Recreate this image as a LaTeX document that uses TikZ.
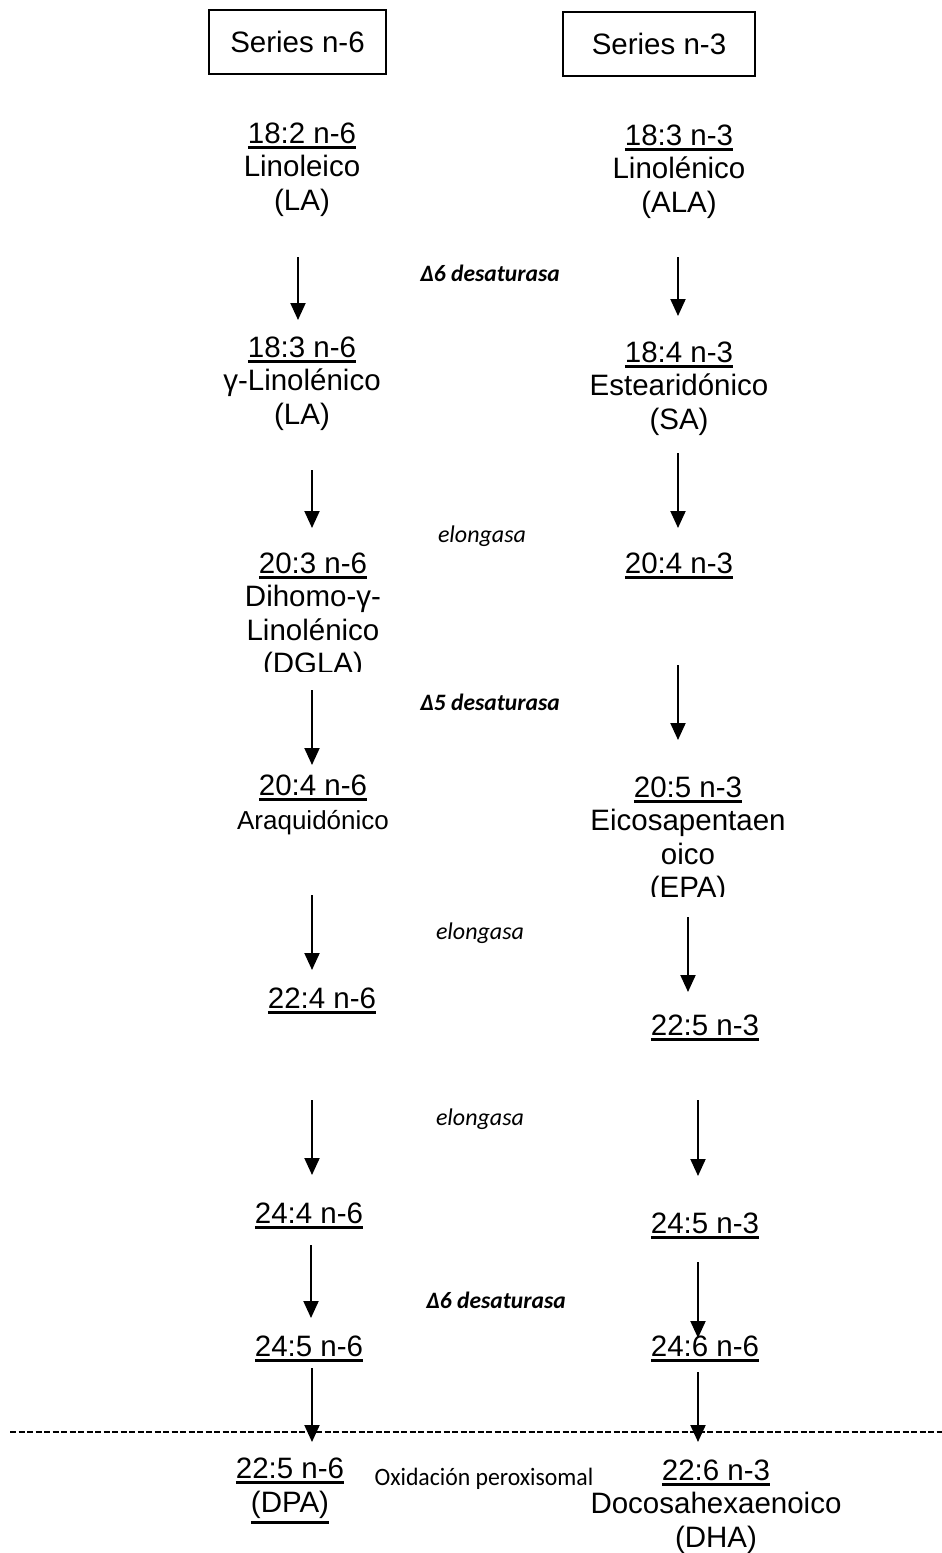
\documentclass[tikz,border=0pt]{standalone}
\usepackage{fontspec}
\setmainfont{Liberation Sans}
\newfontfamily\lblfont{Carlito}
\usetikzlibrary{arrows.meta}

% first line of an acid entry: text with a heavy rule beneath it
\newcommand{\ulin}[1]{\leavevmode\vtop{\hbox{#1}\kern2.6pt\hrule height 2.8pt}}

\begin{document}
\begin{tikzpicture}[x=1pt,y=-1pt,
  acid/.style={font=\fontsize{29.5}{33.5}\selectfont, align=center, inner sep=0pt, anchor=base},
  hdr/.style={draw, line width=2pt, font=\fontsize{29.5}{33.5}\selectfont, minimum height=64pt, inner sep=0pt},
  enz/.style={font=\lblfont\fontsize{24}{28}\selectfont\itshape, inner sep=0pt},
  enzb/.style={font=\lblfont\fontsize{23.5}{28}\selectfont\bfseries\itshape, inner sep=0pt},
  arr/.style={line width=2pt, -{Triangle[width=15pt,length=17pt]}}]
\useasboundingbox (0,0) rectangle (942,1553);
\fill[white] (0,0) rectangle (942,1553);

% series headers
\node[hdr, minimum width=177pt] (h6) at (297.5,42) {Series n-6};
\node[hdr, minimum width=192pt] (h3) at (659,44) {Series n-3};

% n-6 pathway (multi-line entries are placed by the baseline of their last line)
\node[acid] (n6a) at (302,210) {\ulin{18:2 n-6}\\Linoleico\\(LA)};
\node[acid] (n6b) at (302,424) {\ulin{18:3 n-6}\\γ-Linolénico\\(LA)};
\begin{scope}
  \clip (0,0) rectangle (942,671);
  \node[acid] (n6c) at (313,673.5) {\ulin{20:3 n-6}\\Dihomo-γ-\\Linolénico\\(DGLA)};
\end{scope}
\node[acid] (n6d) at (313,829) {\ulin{20:4 n-6}\\{\fontsize{26}{32}\selectfont Araquidónico}};
\node[acid] (n6e) at (322,1008) {\ulin{22:4 n-6}};
\node[acid] (n6f) at (309,1223) {\ulin{24:4 n-6}};
\node[acid] (n6g) at (309,1356) {\ulin{24:5 n-6}};
\node[acid] (n6h) at (290,1512) {\ulin{22:5 n-6}\\\ulin{(DPA)}};

% n-3 pathway
\node[acid] (n3a) at (679,212) {\ulin{18:3 n-3}\\Linolénico\\(ALA)};
\node[acid] (n3b) at (679,429) {\ulin{18:4 n-3}\\Estearidónico\\(SA)};
\node[acid] (n3c) at (679,573) {\ulin{20:4 n-3}};
\begin{scope}
  \clip (0,0) rectangle (942,896);
  \node[acid] (n3d) at (688,897.5) {\ulin{20:5 n-3}\\Eicosapentaen\\oico\\(EPA)};
\end{scope}
\node[acid] (n3e) at (705,1035) {\ulin{22:5 n-3}};
\node[acid] (n3f) at (705,1233) {\ulin{24:5 n-3}};
\node[acid] (n3g) at (705,1356) {\ulin{24:6 n-6}};
\node[acid] (n3h) at (716,1547) {\ulin{22:6 n-3}\\Docosahexaenoico\\(DHA)};

% enzymes
\node[enzb] (e1) at (490,273) {Δ6 desaturasa};
\node[enz]  (e2) at (482,536) {elongasa};
\node[enzb] (e3) at (490,702) {Δ5 desaturasa};
\node[enz]  (e4) at (480,933) {elongasa};
\node[enz]  (e5) at (480,1119) {elongasa};
\node[enzb] (e6) at (496,1300) {Δ6 desaturasa};
\node[font=\lblfont\fontsize{25}{29}\selectfont, inner sep=0pt, xscale=0.95] (e7) at (484,1479) {Oxidación peroxisomal};

% arrow end points
\coordinate (l1t) at (298,257);  \coordinate (l1b) at (298,320);
\coordinate (l2t) at (312,470);  \coordinate (l2b) at (312,528);
\coordinate (l3t) at (312,690);  \coordinate (l3b) at (312,765);
\coordinate (l4t) at (312,895);  \coordinate (l4b) at (312,970);
\coordinate (l5t) at (312,1100); \coordinate (l5b) at (312,1175);
\coordinate (l6t) at (311,1245); \coordinate (l6b) at (311,1318);
\coordinate (l7t) at (312,1368); \coordinate (l7b) at (312,1442);
\coordinate (r1t) at (678,257);  \coordinate (r1b) at (678,316);
\coordinate (r2t) at (678,453);  \coordinate (r2b) at (678,528);
\coordinate (r3t) at (678,665);  \coordinate (r3b) at (678,740);
\coordinate (r4t) at (688,917);  \coordinate (r4b) at (688,992);
\coordinate (r5t) at (698,1100); \coordinate (r5b) at (698,1176);
\coordinate (r6t) at (698,1262); \coordinate (r6b) at (698,1338);
\coordinate (r7t) at (698,1372); \coordinate (r7b) at (698,1442);

\foreach \a in {l1,l2,l3,l4,l5,l6,l7,r1,r2,r3,r4,r5,r6,r7}
  \draw[arr] (\a t) -- (\a b);

% peroxisome boundary
\coordinate (dl) at (10,1432);
\coordinate (dr) at (942,1432);
\draw[line width=1.6pt, dash pattern=on 6pt off 2.5pt] (dl) -- (dr);
\end{tikzpicture}
\end{document}
